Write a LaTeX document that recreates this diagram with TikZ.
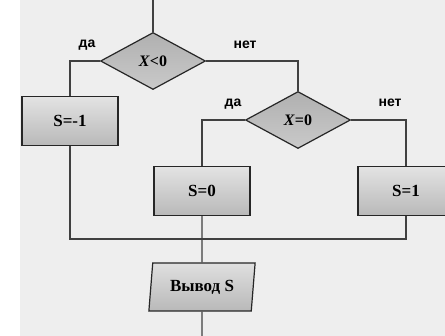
\documentclass[tikz,border=0pt]{standalone}
\usepackage{fontspec}
\setmainfont{Liberation Serif}
\setsansfont{Liberation Sans}
\usetikzlibrary{shapes.geometric}
\tikzset{
  block/.style={draw=black!85,line width=1.2pt,top color=gray!22,bottom color=gray!55,
    minimum width=96pt,minimum height=49pt,inner sep=0pt,font=\fontsize{17}{17}\selectfont\bfseries},
  cond/.style={diamond,draw=black!85,line width=1.2pt,top color=gray!62,bottom color=gray!42,
    minimum width=105pt,minimum height=57pt,inner sep=0pt,font=\fontsize{16}{16}\selectfont\bfseries},
  io/.style={trapezium,trapezium left angle=80,trapezium right angle=100,trapezium stretches=true,
    draw=black!85,line width=1.2pt,top color=gray!25,bottom color=gray!55,
    minimum width=107pt,minimum height=48pt,inner sep=0pt,font=\fontsize{17}{17}\selectfont\bfseries},
  answer/.style={font=\sffamily\bfseries\fontsize{14}{14}\selectfont},
  wire/.style={draw=black!75,line width=1.1pt}
}
\begin{document}
\begin{tikzpicture}[x=1pt,y=-1pt]
      \fill[white] (0,0) rectangle (445,336);
      \fill[gray!13] (20,0) rectangle (445,336);
      \useasboundingbox (0,0) rectangle (445,336);
      \draw
        (153,61) node[cond] (c1){\textit{X}<0}
        (298,120) node[cond] (c2){\textit{X}=0}
        (70,121) node[block] (m1){S=-1}
        (202,191) node[block] (z){S=0}
        (406,191) node[block] (p1){S=1}
        (202,287) node[io] (out){Вывод S};
      \coordinate (top) at (153,0);
      \coordinate (j) at (202,239);
      \coordinate (bot) at (202,336);
      \node[answer] (y1) at (87,45) {да};
      \node[answer] (n1) at (245,45) {нет};
      \node[answer] (y2) at (233,104) {да};
      \node[answer] (n2) at (390,103) {нет};
      \begin{scope}[wire]
        \draw (top) to (c1.north);
        \draw (c1.west) -| (m1.north);
        \draw (c1.east) -| (c2.north);
        \draw (c2.west) -| (z.north);
        \draw (c2.east) -| (p1.north);
        \draw (m1.south) |- (j);
        \draw (p1.south) |- (j);
        \draw (z.south) to (out.north);
        \draw (out.south) to (bot);
      \end{scope}
    \end{tikzpicture}
\end{document}
